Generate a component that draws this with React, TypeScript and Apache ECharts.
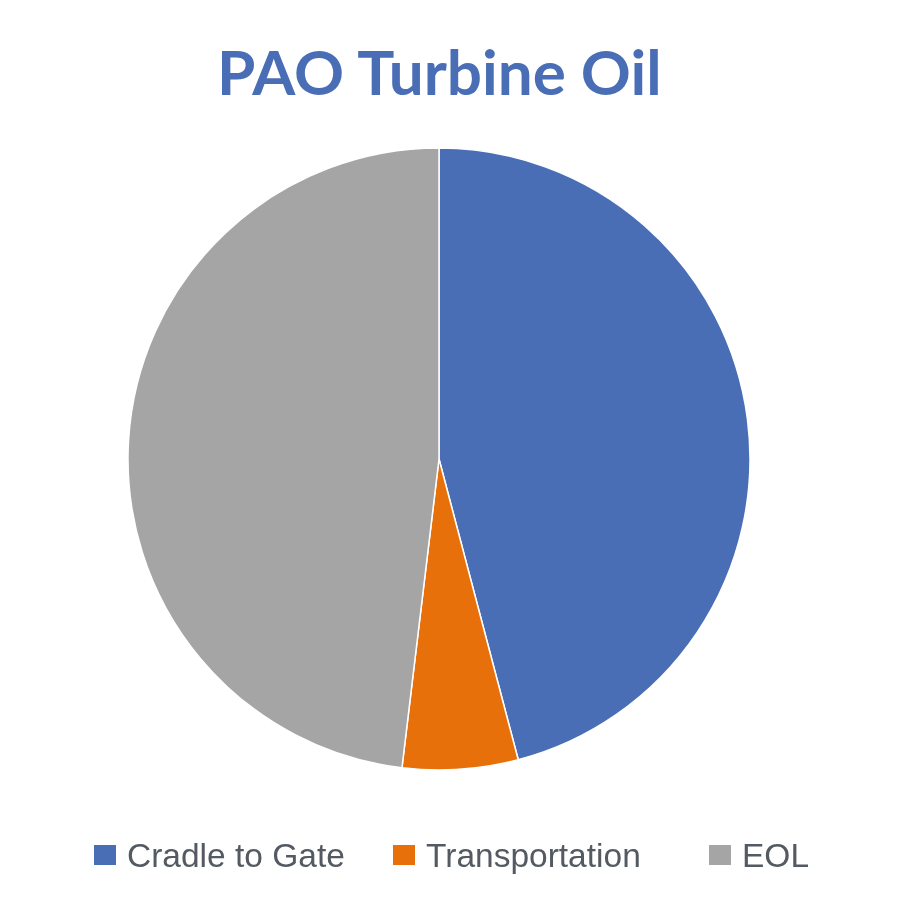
import { useEffect, useRef } from 'react'
import * as echarts from 'echarts'

const categories = ['Cradle to Gate', 'Transportation', 'EOL']
const values = [45.9, 6.0, 48.1]
const colors = ['#4A6EB5', '#E8700A', '#A5A5A5']
const legendLefts = [87, 386, 702]

const App: React.FC = () => {
  const chartRef = useRef<HTMLDivElement | null>(null)

  useEffect(() => {
    if (chartRef.current === null) return
    const chart = echarts.init(chartRef.current, undefined, { renderer: 'svg' })
    chart.setOption({
      animation: false,
      title: {
        text: 'PAO Turbine Oil',
        left: 212,
        top: 35,
        textStyle: {
          color: '#4A6EB5',
          fontSize: 62,
          fontWeight: 'bold',
          fontFamily: 'Lato'
        }
      },
      // one legend per item, the gaps in the reference are uneven
      legend: categories.map((name, i) => ({
        data: [name],
        left: legendLefts[i],
        top: 833,
        icon: 'rect',
        itemWidth: 24,
        itemHeight: 22,
        textStyle: {
          color: '#535A62',
          fontSize: 33.5,
          fontFamily: 'Liberation Sans',
          padding: [0, 0, 0, 5]
        }
      })),
      series: [
        {
          type: 'pie',
          center: [439, 459],
          radius: 311,
          startAngle: 90,
          clockwise: true,
          label: { show: false },
          labelLine: { show: false },
          itemStyle: { borderColor: '#fff', borderWidth: 1.5 },
          data: categories.map((name, i) => ({
            name,
            value: values[i],
            itemStyle: { color: colors[i] }
          }))
        }
      ]
    })
    return () => {
      chart.dispose()
    }
  }, [])

  return (
    <div
      ref={chartRef}
      style={{ position: 'fixed', left: 0, top: 0, width: 900, height: 900 }}
    ></div>
  )
}

export default App
